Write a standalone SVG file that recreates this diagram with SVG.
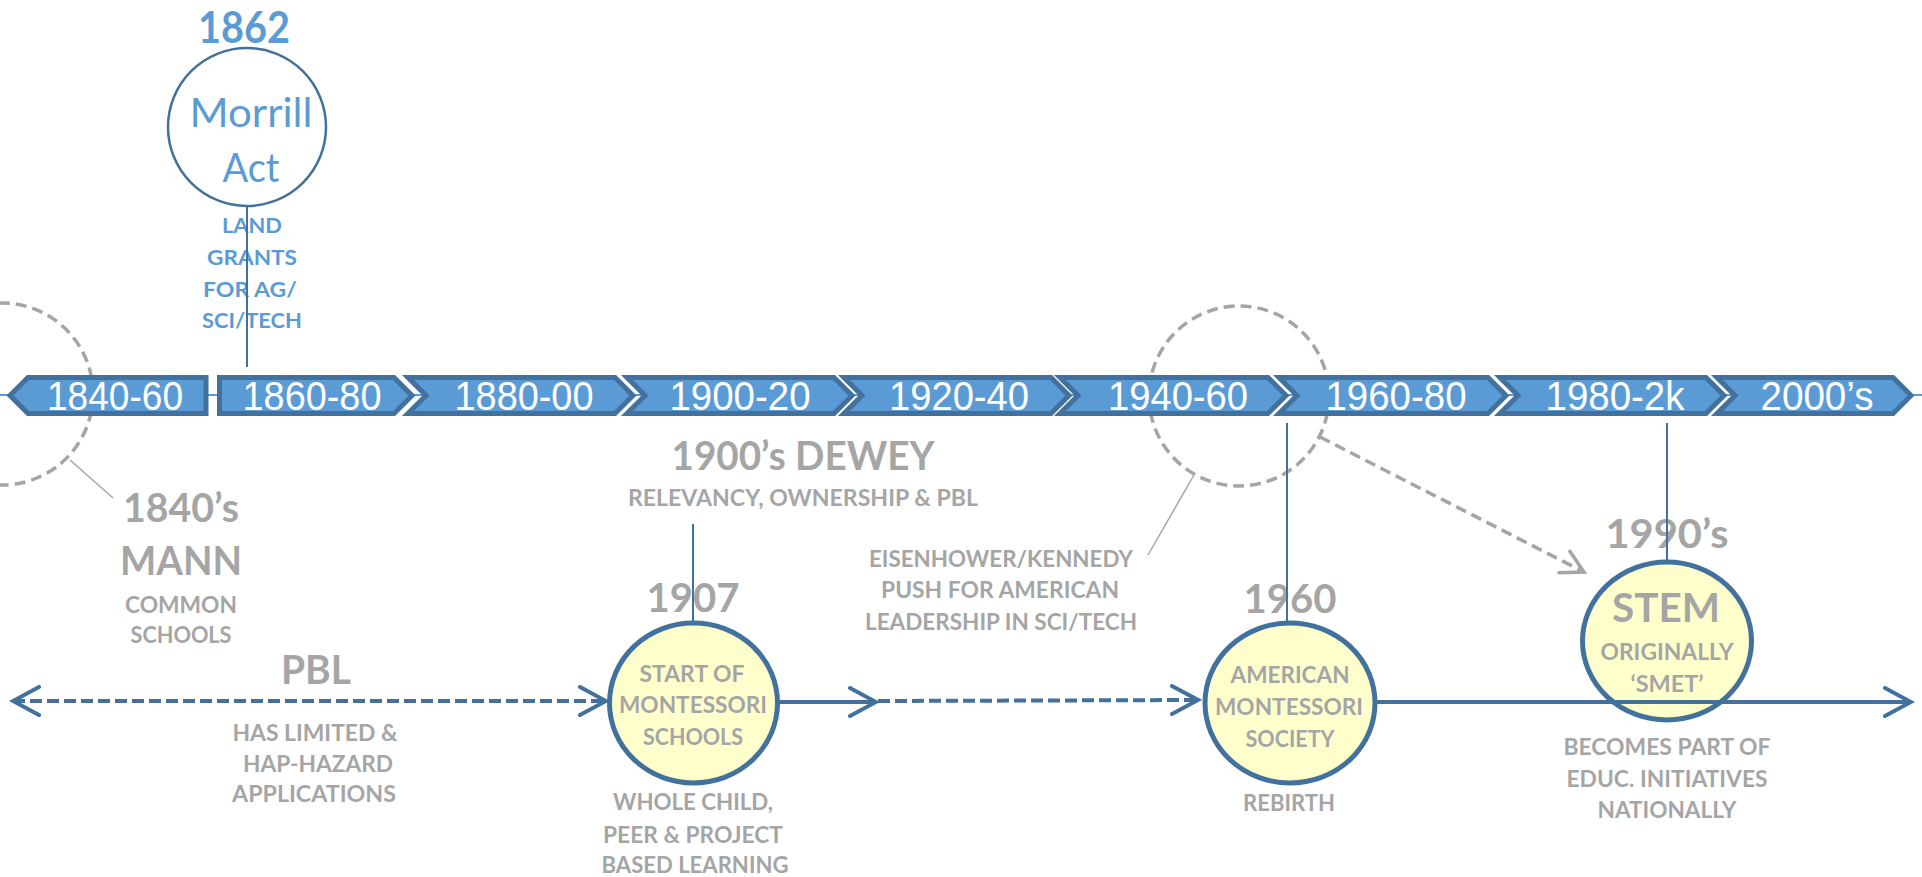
<svg xmlns="http://www.w3.org/2000/svg" width="1922" height="877" viewBox="0 0 1922 877">
<style>
.bg{fill:#ffffff}
.chev{fill:#5B9BD5;stroke:#41719C;stroke-width:5}
.ct{font-family:"Liberation Sans",Arial,sans-serif;font-size:40px;fill:#ffffff;text-anchor:middle}
.dc{fill:none;stroke:#A5A5A5;stroke-width:3.5;stroke-dasharray:11 6}
.gl{stroke:#A5A5A5;stroke-width:1.5;fill:none}
.vl{stroke:#41719C;stroke-width:2;fill:none}
.node{fill:#FFFFCC;stroke:#41719C;stroke-width:5}
.big{font-family:Lato,"Open Sans",sans-serif;font-weight:bold;font-size:41px;fill:#A5A5A5;text-anchor:middle}
.sm{font-family:Lato,"Open Sans",sans-serif;font-weight:bold;font-size:22px;fill:#A5A5A5;text-anchor:middle}
.bsm{font-family:Lato,"Open Sans",sans-serif;font-weight:bold;font-size:21px;fill:#5B9BD5;text-anchor:middle}
.bl{stroke:#41719C;stroke-width:4;fill:none}
.dash{stroke-dasharray:12 5}
.ga{stroke:#A5A5A5;stroke-width:3.5;fill:none;stroke-dasharray:11 6}
</style>
<defs>
<marker id="ah" markerUnits="userSpaceOnUse" viewBox="-2 -2 32 32" refX="26" refY="14" markerWidth="32" markerHeight="32" orient="auto-start-reverse">
<path d="M0,0 L26,14 L0,28" fill="none" stroke="#41719C" stroke-width="4" stroke-linecap="round" stroke-linejoin="miter"/>
</marker>
<marker id="gah" markerUnits="userSpaceOnUse" viewBox="-2 -2 28 28" refX="22" refY="12" markerWidth="28" markerHeight="28" orient="auto">
<path d="M0,0 L22,12 L0,24" fill="none" stroke="#A5A5A5" stroke-width="3.5" stroke-linecap="round"/>
</marker>
</defs>
<rect class="bg" x="0" y="0" width="1922" height="877"/>

<g id="highlights">
<circle class="dc" cx="2" cy="394" r="91"/>
<circle class="dc" cx="1239" cy="396" r="90"/>
</g>

<g id="timeline">
<line x1="0" y1="395" x2="1922" y2="395" stroke="#5B9BD5" stroke-width="2"/>
<g id="seg-1840-60"><polygon class="chev" points="206,377.5 206,413.5 28,413.5 10,395.5 28,377.5"/><text class="ct" x="115" y="410" textLength="136" lengthAdjust="spacingAndGlyphs">1840-60</text></g>
<g id="seg-1860-80"><polygon class="chev" points="219.5,377.5 394,377.5 412,395.5 394,413.5 219.5,413.5"/><text class="ct" x="312" y="410" textLength="139" lengthAdjust="spacingAndGlyphs">1860-80</text></g>
<g id="seg-1880-00"><polygon class="chev" points="408,377.5 615,377.5 633,395.5 615,413.5 408,413.5 426,395.5"/><text class="ct" x="524" y="410" textLength="139" lengthAdjust="spacingAndGlyphs">1880-00</text></g>
<g id="seg-1900-20"><polygon class="chev" points="627,377.5 834,377.5 852,395.5 834,413.5 627,413.5 645,395.5"/><text class="ct" x="740" y="410" textLength="141" lengthAdjust="spacingAndGlyphs">1900-20</text></g>
<g id="seg-1920-40"><polygon class="chev" points="844,377.5 1051,377.5 1069,395.5 1051,413.5 844,413.5 862,395.5"/><text class="ct" x="959" y="410" textLength="140" lengthAdjust="spacingAndGlyphs">1920-40</text></g>
<g id="seg-1940-60"><polygon class="chev" points="1060,377.5 1268,377.5 1286,395.5 1268,413.5 1060,413.5 1078,395.5"/><text class="ct" x="1178" y="410" textLength="140" lengthAdjust="spacingAndGlyphs">1940-60</text></g>
<g id="seg-1960-80"><polygon class="chev" points="1279,377.5 1488,377.5 1506,395.5 1488,413.5 1279,413.5 1297,395.5"/><text class="ct" x="1396" y="410" textLength="141" lengthAdjust="spacingAndGlyphs">1960-80</text></g>
<g id="seg-1980-2k"><polygon class="chev" points="1500,377.5 1706,377.5 1724,395.5 1706,413.5 1500,413.5 1518,395.5"/><text class="ct" x="1615" y="410" textLength="139" lengthAdjust="spacingAndGlyphs">1980-2k</text></g>
<g id="seg-2000s"><polygon class="chev" points="1717,377.5 1893,377.5 1911,395.5 1893,413.5 1717,413.5 1735,395.5"/><text class="ct" x="1817" y="410" textLength="113" lengthAdjust="spacingAndGlyphs">2000’s</text></g>
</g>

<g id="connectors">
<line class="gl" x1="70" y1="460" x2="113" y2="498"/>
<line class="gl" x1="1194" y1="475" x2="1148" y2="555"/>
<line class="ga" x1="1320" y1="437" x2="1584" y2="572" marker-end="url(#gah)"/>
<line class="bl dash" x1="13" y1="701" x2="606" y2="701" marker-start="url(#ah)" marker-end="url(#ah)"/>
<line class="bl" x1="778" y1="702" x2="876" y2="702" marker-end="url(#ah)"/>
<line class="bl dash" x1="878" y1="701" x2="1198" y2="700" marker-end="url(#ah)"/>
</g>

<g id="node-morrill">
<text x="244" y="43" font-family="Lato,'Open Sans',sans-serif" font-weight="bold" font-size="43" fill="#5B9BD5" text-anchor="middle" textLength="92" lengthAdjust="spacingAndGlyphs">1862</text>
<circle cx="247" cy="127" r="79" fill="#ffffff" stroke="#41719C" stroke-width="2.5"/>
<text x="251" y="127" font-family="Lato,'Open Sans',sans-serif" font-size="40" fill="#5B9BD5" text-anchor="middle" textLength="123" lengthAdjust="spacingAndGlyphs">Morrill</text>
<text x="251" y="182" font-family="Lato,'Open Sans',sans-serif" font-size="40" fill="#5B9BD5" text-anchor="middle" textLength="57" lengthAdjust="spacingAndGlyphs">Act</text>
<text class="bsm" x="252" y="233" textLength="60" lengthAdjust="spacingAndGlyphs">LAND</text>
<text class="bsm" x="252" y="265" textLength="90" lengthAdjust="spacingAndGlyphs">GRANTS</text>
<text class="bsm" x="250" y="297" textLength="94" lengthAdjust="spacingAndGlyphs">FOR AG/</text>
<text class="bsm" x="252" y="328" textLength="100" lengthAdjust="spacingAndGlyphs">SCI/TECH</text>
<line class="vl" x1="247" y1="206" x2="247" y2="367"/>
</g>

<g id="node-mann">
<text class="big" x="181" y="522" textLength="116" lengthAdjust="spacingAndGlyphs">1840’s</text>
<text class="big" x="181" y="575" textLength="122" lengthAdjust="spacingAndGlyphs">MANN</text>
<text class="sm" x="181" y="613" textLength="112" lengthAdjust="spacingAndGlyphs">COMMON</text>
<text class="sm" x="181" y="643" textLength="101" lengthAdjust="spacingAndGlyphs">SCHOOLS</text>
</g>

<g id="node-pbl">
<text class="big" x="316" y="684" textLength="70" lengthAdjust="spacingAndGlyphs">PBL</text>
<text class="sm" x="315" y="741" textLength="165" lengthAdjust="spacingAndGlyphs">HAS LIMITED &amp;</text>
<text class="sm" x="318" y="772" textLength="150" lengthAdjust="spacingAndGlyphs">HAP-HAZARD</text>
<text class="sm" x="314" y="802" textLength="164" lengthAdjust="spacingAndGlyphs">APPLICATIONS</text>
</g>

<g id="node-dewey">
<text class="big" x="803" y="470" textLength="263" lengthAdjust="spacingAndGlyphs">1900’s DEWEY</text>
<text class="sm" x="803" y="506" textLength="350" lengthAdjust="spacingAndGlyphs">RELEVANCY, OWNERSHIP &amp; PBL</text>
</g>

<g id="node-1907">
<text class="big" x="693" y="612" textLength="93" lengthAdjust="spacingAndGlyphs">1907</text>
<line class="vl" x1="693" y1="524" x2="693" y2="622"/>
<ellipse class="node" cx="693.5" cy="703" rx="84" ry="80"/>
<text class="sm" x="692" y="682" textLength="105" lengthAdjust="spacingAndGlyphs">START OF</text>
<text class="sm" x="693" y="713" textLength="148" lengthAdjust="spacingAndGlyphs">MONTESSORI</text>
<text class="sm" x="693" y="745" textLength="100" lengthAdjust="spacingAndGlyphs">SCHOOLS</text>
<text class="sm" x="693" y="810" textLength="160" lengthAdjust="spacingAndGlyphs">WHOLE CHILD,</text>
<text class="sm" x="693" y="843" textLength="180" lengthAdjust="spacingAndGlyphs">PEER &amp; PROJECT</text>
<text class="sm" x="695" y="873" textLength="187" lengthAdjust="spacingAndGlyphs">BASED LEARNING</text>
</g>

<g id="node-eisenhower">
<text class="sm" x="1001" y="567" textLength="264" lengthAdjust="spacingAndGlyphs">EISENHOWER/KENNEDY</text>
<text class="sm" x="1000" y="598" textLength="238" lengthAdjust="spacingAndGlyphs">PUSH FOR AMERICAN</text>
<text class="sm" x="1001" y="630" textLength="272" lengthAdjust="spacingAndGlyphs">LEADERSHIP IN SCI/TECH</text>
</g>

<g id="node-1960">
<text class="big" x="1290" y="613" textLength="93" lengthAdjust="spacingAndGlyphs">1960</text>
<line class="vl" x1="1287" y1="423" x2="1287" y2="623"/>
<ellipse class="node" cx="1290" cy="703" rx="85" ry="80"/>
<text class="sm" x="1290" y="683" textLength="119" lengthAdjust="spacingAndGlyphs">AMERICAN</text>
<text class="sm" x="1289" y="715" textLength="148" lengthAdjust="spacingAndGlyphs">MONTESSORI</text>
<text class="sm" x="1290" y="747" textLength="89" lengthAdjust="spacingAndGlyphs">SOCIETY</text>
<text class="sm" x="1289" y="811" textLength="92" lengthAdjust="spacingAndGlyphs">REBIRTH</text>
</g>

<g id="node-stem">
<text class="big" x="1667" y="548" textLength="123" lengthAdjust="spacingAndGlyphs">1990’s</text>
<line class="vl" x1="1667" y1="423" x2="1667" y2="562"/>
<ellipse class="node" cx="1667" cy="641" rx="84.5" ry="79"/>
<text class="big" x="1666" y="622" font-size="38" textLength="108" lengthAdjust="spacingAndGlyphs">STEM</text>
<text class="sm" x="1667" y="660" textLength="133" lengthAdjust="spacingAndGlyphs">ORIGINALLY</text>
<text class="sm" x="1667" y="692" textLength="73" lengthAdjust="spacingAndGlyphs">‘SMET’</text>
<text class="sm" x="1667" y="755" textLength="207" lengthAdjust="spacingAndGlyphs">BECOMES PART OF</text>
<text class="sm" x="1667" y="787" textLength="201" lengthAdjust="spacingAndGlyphs">EDUC. INITIATIVES</text>
<text class="sm" x="1667" y="818" textLength="139" lengthAdjust="spacingAndGlyphs">NATIONALLY</text>
</g>

<g id="connectors-top">
<line class="bl" x1="1375" y1="702" x2="1911" y2="702" stroke-width="3.5" marker-end="url(#ah)"/>
</g>
</svg>
